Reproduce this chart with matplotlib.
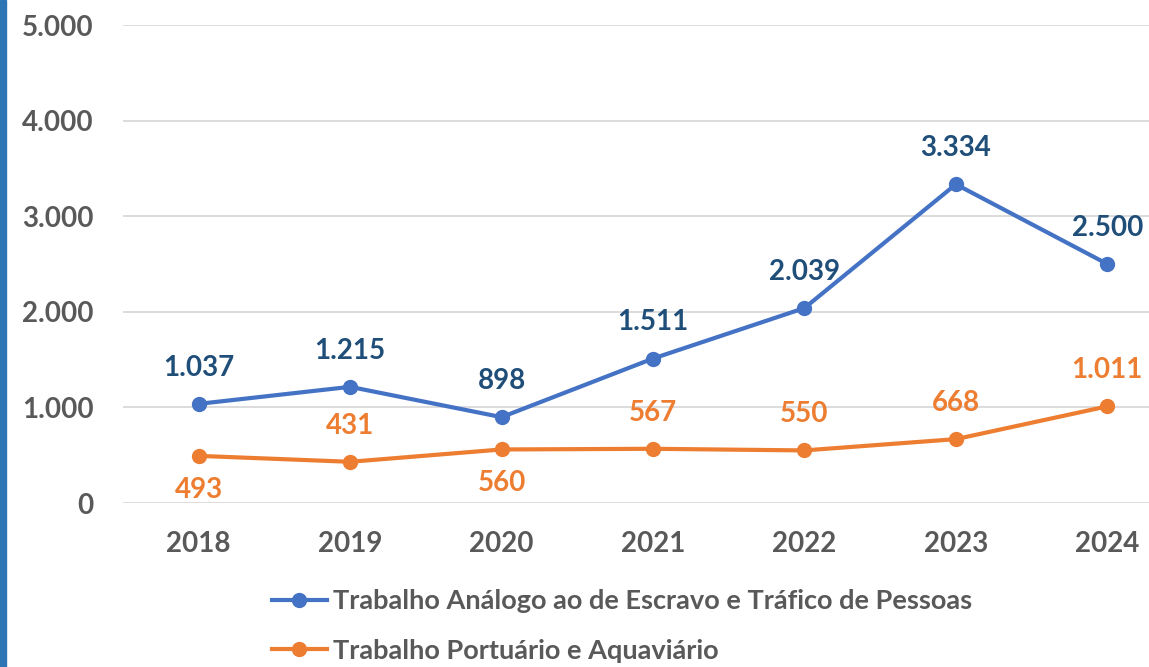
import matplotlib
matplotlib.use("Agg")
import matplotlib.pyplot as plt
from matplotlib.patches import Rectangle
from matplotlib.lines import Line2D

years = ["2018", "2019", "2020", "2021", "2022", "2023", "2024"]
escravo = [1037, 1215, 898, 1511, 2039, 3334, 2500]
portuario = [493, 431, 560, 567, 550, 668, 1011]
label_escravo = "Trabalho Análogo ao de Escravo e Tráfico de Pessoas"
label_portuario = "Trabalho Portuário e Aquaviário"
yticks = [0, 1000, 2000, 3000, 4000, 5000]
ytick_labels = ["0", "1.000", "2.000", "3.000", "4.000", "5.000"]
# orange label placement: +1 above, -1 below
port_pos = [-1, 1, -1, 1, 1, 1, 1]

BLUE = "#4472C4"
ORANGE = "#ED7D31"
NAVY = "#1F4E79"
GRAY = "#595959"
FONT = "Lato"
NUM_SIZE = 20

def fmt(v):
    return f"{v:,}".replace(",", ".")

fig = plt.figure(figsize=(11.49, 6.67), dpi=100)
ax = fig.add_axes([123/1149, (667-503)/667, (1183-123)/1149, (503-25)/667])
x = list(range(len(years)))

ax.plot(x, escravo, color=BLUE, lw=3, marker="o", ms=10, solid_capstyle="round", zorder=3)
ax.plot(x, portuario, color=ORANGE, lw=3, marker="o", ms=10, solid_capstyle="round", zorder=3)

for xi, v in zip(x, escravo):
    ax.annotate(fmt(v), (xi, v), xytext=(0, 26), textcoords="offset points",
                ha="center", va="center", color=NAVY, fontsize=NUM_SIZE,
                fontweight="bold", family=FONT)
for xi, v, p in zip(x, portuario, port_pos):
    dy = 26 if p > 0 else -24.5
    ax.annotate(fmt(v), (xi, v), xytext=(0, dy), textcoords="offset points",
                ha="center", va="center", color=ORANGE, fontsize=NUM_SIZE,
                fontweight="bold", family=FONT)

ax.set_xlim(-0.5, len(years) - 0.5)
ax.set_ylim(0, 5000)
ax.set_yticks(yticks)
ax.set_yticklabels(ytick_labels)
ax.set_xticks(x)
ax.set_xticklabels(years)
for lab in ax.get_xticklabels() + ax.get_yticklabels():
    lab.set_family(FONT)
    lab.set_fontweight("bold")
    lab.set_fontsize(NUM_SIZE)
    lab.set_color(GRAY)
ax.tick_params(axis="both", length=0)
ax.tick_params(axis="y", pad=21)
ax.tick_params(axis="x", pad=20)
ax.grid(axis="y", color="#D9D9D9", lw=1.3)
ax.set_axisbelow(True)
for s in ax.spines.values():
    s.set_visible(False)

handles = [Line2D([], [], color=BLUE, lw=3, marker="o", ms=10),
           Line2D([], [], color=ORANGE, lw=3, marker="o", ms=10)]
leg = fig.legend(handles, [label_escravo, label_portuario], loc="upper left",
                 bbox_to_anchor=(272/1149, 1 - 589/667), frameon=False,
                 prop={"family": FONT, "weight": "bold", "size": 19.5},
                 labelcolor=GRAY, handlelength=2.03, handletextpad=0.22,
                 labelspacing=0.95, borderpad=0, borderaxespad=0)

fig.patches.append(Rectangle((0, 0), 6/1149, 1, transform=fig.transFigure,
                             color="#2E75B6", zorder=5))

fig.savefig("out.png", dpi=100)
